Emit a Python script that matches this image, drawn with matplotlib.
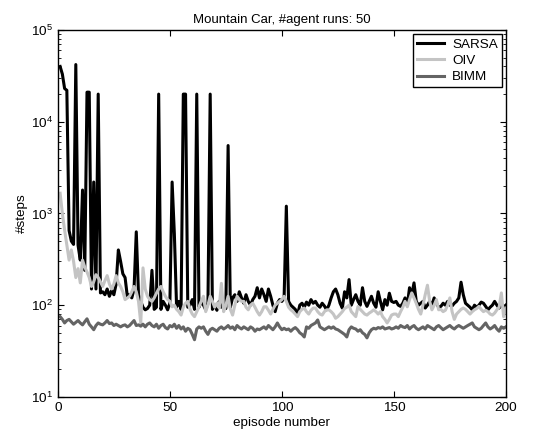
import numpy as np
import matplotlib
matplotlib.use('Agg')
import matplotlib.pyplot as plt
from matplotlib.ticker import LogLocator, NullFormatter

plt.rcParams['font.family'] = ['Liberation Sans', 'DejaVu Sans']

episodes = np.arange(1, 201)

sarsa = [
    40000, 33000, 23000, 22000, 650, 500, 460, 42000, 450, 310,
    1800, 240, 21000, 21000, 150, 2200, 150, 20000, 136, 140,
    130, 150, 125, 145, 130, 170, 400, 300, 220, 200,
    125, 130, 120, 150, 630, 130, 110, 95, 89, 92,
    100, 240, 90, 95, 20000, 90, 110, 100, 89, 105,
    2200, 600, 95, 110, 90, 20000, 20000, 95, 100, 115,
    90, 20000, 95, 110, 100, 89, 105, 20000, 90, 100,
    88, 110, 95, 100, 92, 5500, 95, 120, 130, 110,
    140, 120, 105, 130, 110, 100, 115, 125, 155, 120,
    150, 130, 110, 150, 125, 100, 85, 105, 115, 110,
    120, 1200, 110, 100, 95, 90, 78, 100, 105, 95,
    108, 100, 115, 105, 110, 100, 95, 105, 98, 89,
    100, 120, 140, 150, 130, 105, 93, 140, 120, 190,
    100, 115, 130, 110, 100, 155, 110, 97, 110, 125,
    105, 95, 140, 110, 89, 115, 100, 135, 110, 107,
    110, 100, 97, 105, 120, 100, 155, 130, 175, 110,
    100, 105, 110, 93, 100, 110, 100, 120, 105, 95,
    97, 105, 100, 110, 100, 98, 105, 110, 120, 178,
    130, 105, 100, 95, 89, 100, 95, 100, 108, 105,
    97, 89, 95, 100, 110, 100, 93, 100, 95, 100,
]

oiv = [
    1660, 1000, 660, 450, 310, 400, 300, 200, 250, 175,
    310, 260, 230, 200, 160, 180, 215, 200, 180, 160,
    185, 210, 170, 150, 170, 210, 175, 160, 140, 115,
    120, 125, 140, 160, 140, 110, 64, 255, 150, 125,
    115, 110, 120, 135, 150, 160, 140, 125, 115, 110,
    96, 100, 90, 85, 78, 95, 105, 110, 90, 80,
    75, 85, 96, 110, 125, 85, 100, 125, 110, 95,
    105, 93, 173, 85, 100, 125, 90, 78, 100, 125,
    115, 110, 110, 95, 89, 100, 105, 95, 85, 78,
    85, 96, 96, 88, 80, 90, 100, 105, 110, 115,
    125, 110, 95, 89, 85, 80, 75, 85, 90, 93,
    85, 80, 88, 93, 93, 85, 80, 78, 85, 89,
    89, 85, 80, 72, 75, 80, 85, 92, 95, 100,
    85, 80, 75, 97, 90, 85, 80, 78, 82, 85,
    89, 85, 80, 85, 75, 70, 64, 70, 78, 80,
    80, 75, 85, 95, 110, 96, 115, 136, 120, 105,
    90, 80, 100, 130, 165, 110, 89, 100, 115, 89,
    90, 85, 88, 100, 120, 85, 70, 80, 85, 90,
    93, 90, 85, 80, 85, 89, 92, 97, 90, 85,
    88, 85, 80, 78, 82, 89, 95, 136, 75, 93,
]

bimm = [
    75, 70, 64, 68, 70, 66, 62, 65, 68, 64,
    61, 66, 71, 62, 58, 54, 60, 64, 62, 61,
    64, 68, 63, 64, 60, 62, 60, 58, 60, 61,
    58, 60, 64, 68, 60, 61, 59, 62, 58, 62,
    64, 60, 58, 62, 56, 60, 62, 57, 55, 60,
    58, 62, 56, 60, 55, 58, 52, 56, 54, 48,
    42, 55, 58, 56, 58, 52, 48, 54, 56, 54,
    52, 56, 58, 55, 57, 60, 56, 58, 54, 60,
    57, 55, 58, 56, 54, 58, 56, 52, 55, 54,
    56, 58, 55, 60, 57, 54, 58, 64, 58, 54,
    56, 54, 55, 52, 55, 57, 54, 50, 48, 45,
    58, 56, 60, 62, 64, 69, 58, 56, 54, 56,
    58, 56, 58, 55, 54, 52, 50, 48, 45, 54,
    58, 56, 55, 52, 54, 50, 48, 44, 50, 54,
    56, 55, 57, 56, 58, 55, 56, 57, 55, 56,
    58, 56, 60, 58, 57, 60, 55, 58, 60, 56,
    54, 56, 58, 55, 60, 58, 56, 54, 58, 60,
    57, 54, 56, 58, 60, 57, 55, 58, 60, 58,
    56, 58, 60, 62, 64, 58, 56, 54, 56, 60,
    64, 58, 55, 57, 60, 55, 52, 58, 56, 58,
]

fig = plt.figure(figsize=(5.41, 4.41), dpi=100)
ax = fig.add_axes([0.107, 0.100, 0.828, 0.832])

ax.plot(episodes, sarsa, color='black', linewidth=2.2, label='SARSA')
ax.plot(episodes, oiv, color='#c4c4c4', linewidth=2.2, label='OIV')
ax.plot(episodes, bimm, color='#646464', linewidth=2.2, label='BIMM')

ax.set_yscale('log')
ax.set_xlim(0, 200)
ax.set_ylim(10, 1e5)
ax.set_xticks([0, 50, 100, 150, 200])
ax.yaxis.set_major_locator(LogLocator(base=10, numticks=10))
ax.yaxis.set_minor_locator(LogLocator(base=10, subs=np.arange(2, 10), numticks=20))
ax.yaxis.set_minor_formatter(NullFormatter())
ax.tick_params(which='both', direction='in', top=True, right=True, labelsize=9.7)
ax.tick_params(which='major', length=4)
ax.tick_params(which='minor', length=2)
for sp in ax.spines.values():
    sp.set_linewidth(1)

ax.set_xlabel('episode number', fontsize=9.7, labelpad=2)
ax.set_ylabel('#steps', fontsize=9.7, labelpad=2)
ax.set_title('Mountain Car, #agent runs: 50', fontsize=9.5, pad=5)

leg = ax.legend(loc='upper right', fontsize=9.7, fancybox=False, framealpha=1,
                edgecolor='black', borderaxespad=0.3, handlelength=2.0,
                handletextpad=0.6, labelspacing=0.3, borderpad=0.3)
leg.get_frame().set_linewidth(1)

fig.savefig('out.png', dpi=100)
